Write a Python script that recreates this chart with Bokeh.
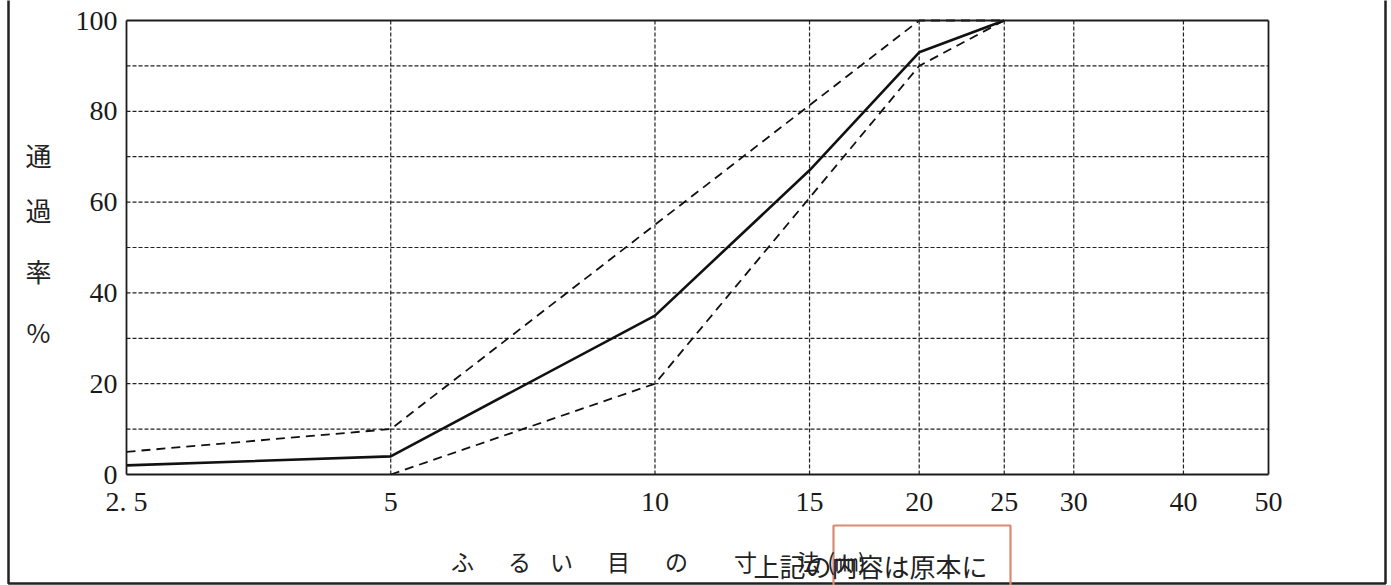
import math
from bokeh.plotting import figure
from bokeh.models import (Range1d, FixedTicker, Label, BoxAnnotation, LogAxis, LinearAxis)
from bokeh.embed import file_html
from bokeh.resources import INLINE

# --- data ---
sizes_actual = [2.5, 5, 10, 15, 20, 25]
pass_actual = [2, 4, 35, 67, 93, 100]
sizes_upper = [2.5, 5, 10, 20, 25]
pass_upper = [5, 10, 55, 100, 100]
sizes_lower = [5, 10, 20, 25]
pass_lower = [0, 20, 90, 100]
x_ticks = [2.5, 5, 10, 15, 20, 25, 30, 40, 50]
x_tick_labels = ["2. 5", "5", "10", "15", "20", "25", "30", "40", "50"]
x_grid = [5, 10, 15, 20, 25, 30, 40]
y_ticks = [0, 20, 40, 60, 80, 100]
y_grid = [10, 20, 30, 40, 50, 60, 70, 80, 90]
y_title_chars = ["通", "過", "率", "%"]
x_title_chars = ["ふ", "る", "い", "目", "の", "寸", "法", "(㎜)"]
note_text = "上記の内容は原本に"

# --- layout (pixels) ---
W, H = 1391, 585
FL, FR, FT, FB = 126, 1268, 20, 474          # chart box inside the canvas
x_lo, x_hi = x_ticks[0], x_ticks[-1]
y_lo, y_hi = y_ticks[0], y_ticks[-1]
ppl = (FR - FL) / math.log(x_hi / x_lo)      # px per ln unit
ppu = (FB - FT) / (y_hi - y_lo)              # px per percent
x_start = x_lo * math.exp(-FL / ppl)
x_end = x_hi * math.exp((W - FR) / ppl)
y_start = y_lo - (H - FB) / ppu
y_end = y_hi + FT / ppu

p = figure(width=W, height=H, x_axis_type="log",
           x_range=Range1d(x_start, x_end), y_range=Range1d(y_start, y_end),
           output_backend="svg", toolbar_location=None,
           min_border=0, min_border_left=0, min_border_right=0,
           min_border_top=0, min_border_bottom=0)
p.title.visible = False
p.background_fill_color = "white"
p.border_fill_color = "white"
p.outline_line_color = None
p.xgrid.visible = False
p.ygrid.visible = False

LINE = "#1c1c1c"

# main axes placed at the chart box edges
xa = p.xaxis[0]
ya = p.yaxis[0]
xa.fixed_location = y_lo
xa.bounds = (x_lo, x_hi)
ya.fixed_location = x_lo
ya.bounds = (y_lo, y_hi)
for ax in (xa, ya):
    ax.axis_line_color = LINE
    ax.axis_line_width = 1.8
    ax.major_tick_line_color = None
    ax.minor_tick_line_color = None
    ax.major_tick_out = 0
    ax.major_tick_in = 0
    ax.minor_tick_out = 0
    ax.minor_tick_in = 0
    ax.major_label_text_font = "Liberation Serif"
    ax.major_label_text_font_size = "28px"
    ax.major_label_text_color = "#1a1a1a"
xa.ticker = FixedTicker(ticks=x_ticks)
xa.major_label_overrides = {t: l for t, l in zip(x_ticks, x_tick_labels)}
xa.major_label_standoff = 11
ya.ticker = FixedTicker(ticks=y_ticks)
ya.major_label_standoff = 9

# top and right edges of the chart box
top_ax = LogAxis(fixed_location=y_hi, bounds=(x_lo, x_hi), ticker=FixedTicker(ticks=[]),
                 axis_line_color=LINE, axis_line_width=1.8,
                 major_tick_line_color=None, minor_tick_line_color=None,
                 major_label_text_color=None)
right_ax = LinearAxis(fixed_location=x_hi, bounds=(y_lo, y_hi), ticker=FixedTicker(ticks=[]),
                      axis_line_color=LINE, axis_line_width=1.8,
                      major_tick_line_color=None, minor_tick_line_color=None,
                      major_label_text_color=None)
p.add_layout(top_ax, "above")
p.add_layout(right_ax, "right")

# dashed grid, limited to the chart box
p.segment(x0=x_grid, y0=[y_lo] * len(x_grid), x1=x_grid, y1=[y_hi] * len(x_grid),
          line_color="#222222", line_width=1.2, line_dash="4 2")
p.segment(x0=[x_lo] * len(y_grid), y0=y_grid, x1=[x_hi] * len(y_grid), y1=y_grid,
          line_color="#222222", line_width=1.2, line_dash="4 2")

# grading curves
p.line(sizes_upper, pass_upper, line_color="#111111", line_width=1.8, line_dash="9 6")
p.line(sizes_lower, pass_lower, line_color="#111111", line_width=1.8, line_dash="9 6")
p.line(sizes_actual, pass_actual, line_color="#111111", line_width=2.6)

def sx(px):
    return px

def sy(py):
    return H - py

# outer document border
p.add_layout(BoxAnnotation(left=sx(8), right=sx(1385), bottom=sy(583), top=sy(-20),
                           left_units="screen", right_units="screen",
                           bottom_units="screen", top_units="screen",
                           fill_color=None, fill_alpha=0,
                           line_color="#222222", line_alpha=1.0, line_width=2.5))

# stamp outline
p.add_layout(BoxAnnotation(left=sx(833), right=sx(1010), bottom=sy(600), top=sy(525),
                           left_units="screen", right_units="screen",
                           bottom_units="screen", top_units="screen",
                           fill_color=None, fill_alpha=0,
                           line_color="#d98a74", line_alpha=1.0, line_width=2.2))

# y title (stacked characters)
y_title_y = [154, 209, 270, 331]
for ch, yc in zip(y_title_chars, y_title_y):
    p.add_layout(Label(x=sx(38), y=sy(yc), x_units="screen", y_units="screen",
                       text=ch, text_align="center", text_baseline="middle",
                       text_font="Noto Sans CJK JP", text_font_size="26px",
                       text_color="#222222"))

# x title (spaced characters)
x_title_x = [462, 519, 561, 618, 676, 745, 808, 846]
for ch, xc in zip(x_title_chars, x_title_x):
    p.add_layout(Label(x=sx(xc), y=sy(560), x_units="screen", y_units="screen",
                       text=ch, text_align="center", text_baseline="middle",
                       text_font="Noto Sans CJK JP", text_font_size="23px",
                       text_color="#222222"))

# overlaid note
p.add_layout(Label(x=sx(753), y=sy(546), x_units="screen", y_units="screen",
                   text=note_text, text_align="left", text_baseline="top",
                   text_font="Noto Sans CJK JP", text_font_size="26px",
                   text_color="#222222"))

open("out.html", "w").write(file_html(p, INLINE))
